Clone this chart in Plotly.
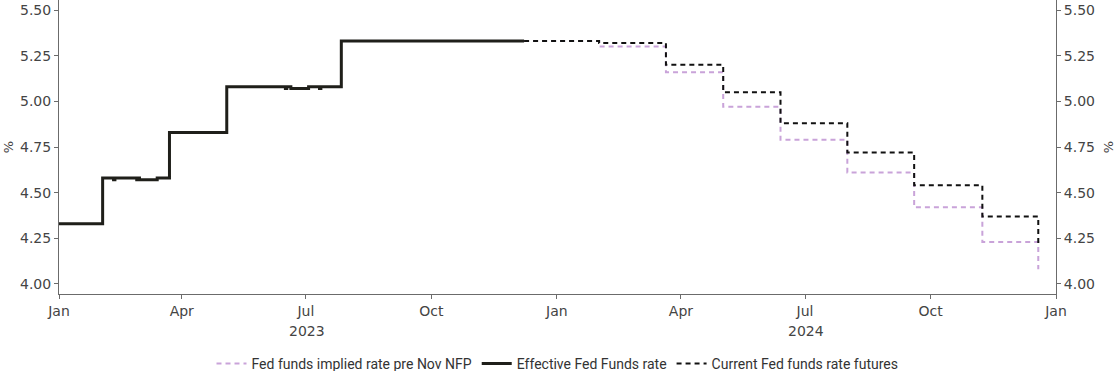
import plotly.graph_objects as go

# Effective Fed Funds rate (daily steps)
effr_dates = ["2023-01-01", "2023-02-02", "2023-02-10", "2023-02-11", "2023-02-27", "2023-02-28",
              "2023-03-01", "2023-03-14", "2023-03-23", "2023-05-04", "2023-06-16", "2023-06-17",
              "2023-06-20", "2023-07-03", "2023-07-11", "2023-07-12", "2023-07-27", "2023-12-08"]
effr_values = [4.33, 4.58, 4.57, 4.58, 4.57, 4.58,
               4.57, 4.58, 4.83, 5.08, 5.07, 5.08,
               5.07, 5.08, 5.07, 5.08, 5.33, 5.33]

# Fed funds implied rate pre Nov NFP
pre_dates = ["2023-12-08", "2024-02-01", "2024-03-21", "2024-05-02", "2024-06-13",
             "2024-08-01", "2024-09-19", "2024-11-08", "2024-12-19"]
pre_values = [5.33, 5.30, 5.16, 4.97, 4.79, 4.61, 4.42, 4.23, 4.08]

# Current Fed funds rate futures
cur_dates = ["2023-12-08", "2024-02-01", "2024-03-21", "2024-05-02", "2024-06-13",
             "2024-08-01", "2024-09-19", "2024-11-08", "2024-12-19"]
cur_values = [5.33, 5.32, 5.20, 5.05, 4.88, 4.72, 4.54, 4.37, 4.21]

y_ticks = [4.00, 4.25, 4.50, 4.75, 5.00, 5.25, 5.50]
year_labels = ["2023", "2024"]
year_positions = ["2023-07-02", "2024-07-02"]

TICKFONT = "DejaVu Sans"
LEGFONT = "Roboto"
AX = "#6b6b6b"
TXT = "#444444"

fig = go.Figure()
fig.add_trace(go.Scatter(x=pre_dates, y=pre_values, mode="lines", line_shape="hv",
                         name="Fed funds implied rate pre Nov NFP",
                         line=dict(color="#c9a3d9", width=2, dash="5px,4px")))
fig.add_trace(go.Scatter(x=effr_dates, y=effr_values, mode="lines", line_shape="hv",
                         name="Effective Fed Funds rate",
                         line=dict(color="#1f1f1a", width=3)))
fig.add_trace(go.Scatter(x=cur_dates, y=cur_values, mode="lines", line_shape="hv",
                         name="Current Fed funds rate futures",
                         line=dict(color="#111111", width=2, dash="5px,4px")))
# invisible trace for right axis
fig.add_trace(go.Scatter(x=[effr_dates[0]], y=[effr_values[0]], yaxis="y2", mode="lines",
                         showlegend=False, hoverinfo="skip", line=dict(width=0)))

yrange = [3.945, 5.555]
tf = dict(family=TICKFONT, size=14, color=TXT)
fig.update_layout(
    width=1118, height=371,
    margin=dict(l=59, r=62, t=0, b=77, autoexpand=False),
    paper_bgcolor="white", plot_bgcolor="white",
    font=dict(family=TICKFONT, size=14, color=TXT),
    showlegend=True,
    legend=dict(orientation="h", x=0.5, xanchor="center", y=-0.238, yanchor="middle",
                font=dict(family=LEGFONT, size=14, color="#333333"), itemwidth=30,
                tracegroupgap=0),
    xaxis=dict(type="date", range=["2023-01-01", "2025-01-01"], automargin=False,
               tickvals=["2023-01-01", "2023-04-01", "2023-07-01", "2023-10-01", "2024-01-01",
                         "2024-04-01", "2024-07-01", "2024-10-01", "2025-01-01"],
               ticktext=["Jan", "Apr", "Jul", "Oct", "Jan", "Apr", "Jul", "Oct", "Jan"],
               showline=True, linecolor=AX, linewidth=1, ticks="outside", ticklen=4,
               tickcolor=AX, showgrid=False, zeroline=False, tickfont=tf),
    yaxis=dict(range=yrange, tickvals=y_ticks, tickformat=".2f", showline=True, linecolor=AX,
               linewidth=1, ticks="outside", ticklen=4, tickcolor=AX, showgrid=False,
               zeroline=False, automargin=False,
               title=dict(text="%", standoff=3, font=dict(family=TICKFONT, size=13)),
               tickfont=tf),
    yaxis2=dict(range=yrange, tickvals=y_ticks, tickformat=".2f", overlaying="y", side="right",
                showline=True, linecolor=AX, linewidth=1, ticks="outside", ticklen=4,
                tickcolor=AX, showgrid=False, zeroline=False, automargin=False,
                title=dict(text="%", standoff=9, font=dict(family=TICKFONT, size=13)),
                tickfont=tf),
)
for lbl, pos in zip(year_labels, year_positions):
    fig.add_annotation(x=pos, y=-0.126, xref="x", yref="paper", text=lbl, showarrow=False,
                       font=dict(family=TICKFONT, size=14, color=TXT), yanchor="middle")

fig.write_html("out.html", config={"displayModeBar": False},
               post_script="document.body.style.margin='0';")
